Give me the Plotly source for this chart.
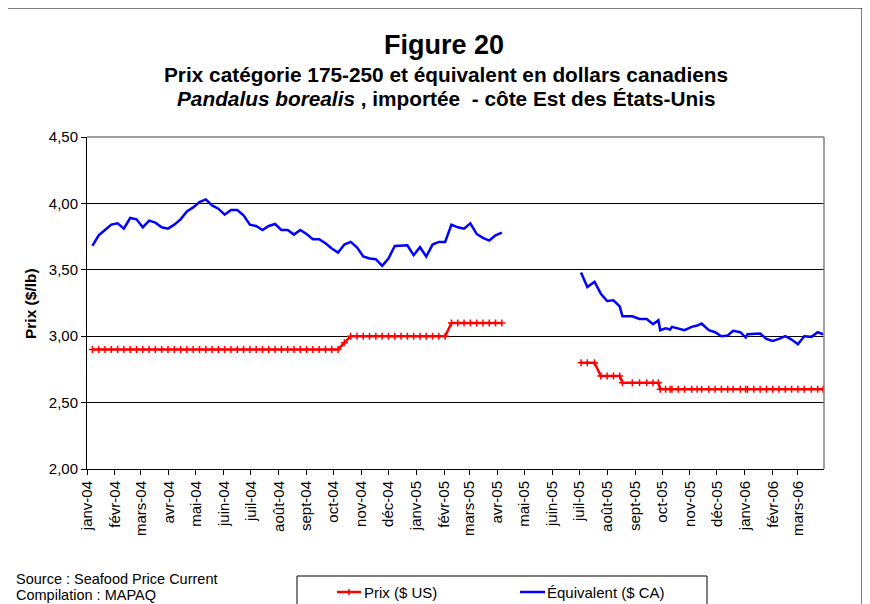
import plotly.graph_objects as go
import pandas as pd

# ---------------- data ----------------
dates_2004 = list(pd.date_range("2004-01-07", periods=66, freq="7D").strftime("%Y-%m-%d"))
prix_us_2004 = [2.90] * 40 + [2.95] + [3.00] * 16 + [3.10] * 9
equiv_ca_2004 = [3.68, 3.76, 3.80, 3.84, 3.85, 3.81, 3.89, 3.88, 3.82, 3.87,
                 3.855, 3.82, 3.81, 3.84, 3.88, 3.94, 3.97, 4.01, 4.03, 3.985,
                 3.96, 3.915, 3.95, 3.95, 3.91, 3.84, 3.83, 3.80, 3.83, 3.845,
                 3.80, 3.80, 3.765, 3.80, 3.77, 3.73, 3.73, 3.70, 3.66, 3.63,
                 3.69, 3.71, 3.67, 3.60, 3.585, 3.58, 3.53, 3.585, 3.68, 3.68,
                 3.685, 3.61, 3.67, 3.60, 3.69, 3.71, 3.71, 3.84, 3.82, 3.81,
                 3.85, 3.77, 3.74, 3.72, 3.76, 3.78]

dates_2005 = ["2005-07-03", "2005-07-10", "2005-07-18", "2005-07-25", "2005-08-01",
              "2005-08-08", "2005-08-15", "2005-08-18", "2005-08-29", "2005-09-06",
              "2005-09-14", "2005-09-21", "2005-09-27", "2005-09-29", "2005-10-05",
              "2005-10-10", "2005-10-12", "2005-10-19", "2005-10-26", "2005-11-03",
              "2005-11-09", "2005-11-14", "2005-11-22", "2005-11-29", "2005-12-06",
              "2005-12-13", "2005-12-19", "2005-12-27", "2006-01-02", "2006-01-04",
              "2006-01-11", "2006-01-18", "2006-01-25", "2006-02-01", "2006-02-08",
              "2006-02-15", "2006-02-22", "2006-03-01", "2006-03-08", "2006-03-16",
              "2006-03-23", "2006-03-29"]
prix_us_2005 = [2.80] * 3 + [2.70] * 4 + [2.65] * 6 + [2.60] * 29
equiv_ca_2005 = [3.48, 3.37, 3.41, 3.32, 3.265, 3.27, 3.225, 3.15, 3.15, 3.13,
                 3.13, 3.09, 3.12, 3.045, 3.06, 3.05, 3.07, 3.06, 3.045, 3.07,
                 3.08, 3.095, 3.045, 3.03, 3.00, 3.005, 3.04, 3.03, 2.99, 3.015,
                 3.015, 3.02, 2.98, 2.965, 2.98, 3.00, 2.975, 2.94, 3.00, 2.995,
                 3.03, 3.015]

tick_dates = list(pd.date_range("2004-01-01", "2006-03-01", freq="MS").strftime("%Y-%m-%d"))
month_names = ["janv", "févr", "mars", "avr", "mai", "juin",
               "juil", "août", "sept", "oct", "nov", "déc"]
tick_labels = [f"{month_names[int(d[5:7]) - 1]}-{d[2:4]}" for d in tick_dates]
y_ticks = [2.0, 2.5, 3.0, 3.5, 4.0, 4.5]
y_tick_labels = ["2,00", "2,50", "3,00", "3,50", "4,00", "4,50"]
series_names = ["Prix ($ US)", "Équivalent ($ CA)"]
series_colors = ["#FF0000", "#0000FF"]

x_all = dates_2004 + [None] + dates_2005
prix_all = prix_us_2004 + [None] + prix_us_2005
equiv_all = equiv_ca_2004 + [None] + equiv_ca_2005

FONT = "Liberation Sans, Arial, sans-serif"

fig = go.Figure()
fig.add_trace(go.Scatter(
    x=x_all, y=prix_all, name=series_names[0], mode="lines+markers",
    connectgaps=False, showlegend=False,
    line=dict(color=series_colors[0], width=2.5),
    marker=dict(symbol="cross-thin", size=5, color=series_colors[0],
                line=dict(color=series_colors[0], width=1.5)),
))
fig.add_trace(go.Scatter(
    x=x_all, y=equiv_all, name=series_names[1], mode="lines",
    connectgaps=False, showlegend=False,
    line=dict(color=series_colors[1], width=2.5),
))

# ---- layout geometry (target positions in screen pixels) ----
FIG_W, FIG_H = 870, 604
OFF = 8.0  # page offset of the figure


def fx(xs):
    return xs - OFF


def fy(ys):
    return ys - OFF


SL, SR, ST, SB = 87, 824, 137, 469
L, R = fx(SL), fx(SR)
T, B = fy(ST), fy(SB)
W, H = R - L, B - T


def px(xs):
    return (fx(xs) - L) / W


def py(ys):
    return (B - fy(ys)) / H


def pline(x0, x1, y0, y1, color, width):
    return dict(type="line", xref="paper", yref="paper",
                x0=px(x0), x1=px(x1), y0=py(y0), y1=py(y1),
                line=dict(color=color, width=width))


LEG_Y = 592
shapes = [
    # outer chart border
    dict(type="rect", xref="paper", yref="paper", x0=px(7), x1=px(862), y0=py(680), y1=py(8),
         line=dict(color="#000000", width=1), layer="below"),
    # plot area top / right border (gray)
    dict(type="line", xref="paper", yref="paper", x0=0, x1=1, y0=1, y1=1,
         line=dict(color="#808080", width=1.5)),
    dict(type="line", xref="paper", yref="paper", x0=1, x1=1, y0=0, y1=1,
         line=dict(color="#808080", width=1.5)),
    # legend box
    dict(type="rect", xref="paper", yref="paper", x0=px(297), x1=px(707), y0=py(680), y1=py(576),
         line=dict(color="#000000", width=1), fillcolor="white", layer="below"),
    # legend keys
    pline(337, 361, LEG_Y, LEG_Y, series_colors[0], 2.5),
    pline(349, 349, LEG_Y - 3, LEG_Y + 3, series_colors[0], 1.5),
    pline(520, 545, LEG_Y, LEG_Y, series_colors[1], 2.5),
]

annotations = [
    dict(text="<b>Figure 20</b>", x=px(444), y=py(45), xref="paper", yref="paper",
         showarrow=False, font=dict(family=FONT, size=27, color="black"),
         xanchor="center", yanchor="middle"),
    dict(text="<b>Prix catégorie 175-250 et équivalent en dollars canadiens</b>",
         x=px(446), y=py(75), xref="paper", yref="paper", showarrow=False,
         font=dict(family=FONT, size=20.8, color="black"), xanchor="center", yanchor="middle"),
    dict(text="<b><i>Pandalus borealis</i> , importée  - côte Est des États-Unis</b>",
         x=px(446), y=py(98), xref="paper", yref="paper", showarrow=False,
         font=dict(family=FONT, size=20.8, color="black"), xanchor="center", yanchor="middle"),
    dict(text="<b>Prix ($/lb)</b>", x=px(30), y=py(304), xref="paper", yref="paper",
         showarrow=False, textangle=-90, font=dict(family=FONT, size=15.5, color="black"),
         xanchor="center", yanchor="middle"),
    dict(text="Source : Seafood Price Current", x=px(14), y=py(579), xref="paper", yref="paper",
         showarrow=False, font=dict(family=FONT, size=14.5, color="black"),
         xanchor="left", yanchor="middle"),
    dict(text="Compilation : MAPAQ", x=px(14), y=py(595), xref="paper", yref="paper",
         showarrow=False, font=dict(family=FONT, size=14.5, color="black"),
         xanchor="left", yanchor="middle"),
    dict(text=series_names[0], x=px(362), y=py(LEG_Y), xref="paper", yref="paper",
         showarrow=False, font=dict(family=FONT, size=15, color="black"),
         xanchor="left", yanchor="middle"),
    dict(text=series_names[1], x=px(545), y=py(LEG_Y), xref="paper", yref="paper",
         showarrow=False, font=dict(family=FONT, size=15, color="black"),
         xanchor="left", yanchor="middle"),
]

fig.update_layout(
    width=FIG_W, height=FIG_H,
    margin=dict(l=L, r=FIG_W - R, t=T, b=FIG_H - B, pad=0),
    paper_bgcolor="white", plot_bgcolor="white",
    font=dict(family=FONT, size=15, color="black"),
    showlegend=False,
    shapes=shapes,
    annotations=annotations,
    xaxis=dict(
        type="date", range=["2004-01-01", "2006-03-30"],
        tickmode="array", tickvals=tick_dates, ticktext=tick_labels,
        tickangle=-90, ticks="outside", ticklen=5, tickcolor="black",
        showline=True, linecolor="black", linewidth=1,
        showgrid=False, zeroline=False, automargin=False,
        tickfont=dict(family=FONT, size=15, color="black"),
    ),
    yaxis=dict(
        range=[2.0, 4.5], tickmode="array", tickvals=y_ticks, ticktext=y_tick_labels,
        ticks="outside", ticklen=5, tickcolor="black",
        showline=True, linecolor="black", linewidth=1,
        showgrid=True, gridcolor="black", gridwidth=1, zeroline=False, automargin=False,
        tickfont=dict(family=FONT, size=15, color="black"),
    ),
)

fig.write_html("out.html")
